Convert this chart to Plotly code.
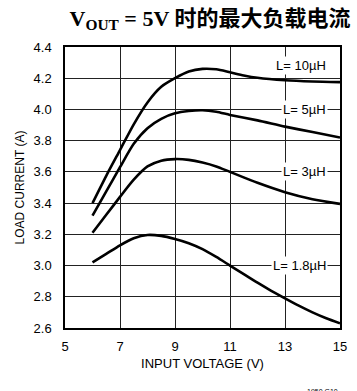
import plotly.graph_objects as go

# Input voltage (V) sample points and maximum load current (A) for each inductor value
vin_10uh = [6, 6.5, 7, 7.5, 8, 8.5, 9, 9.5, 10, 10.5, 11, 11.5, 12, 13, 14, 15]
iload_10uh = [3.40, 3.575, 3.74, 3.905, 4.045, 4.145, 4.20, 4.243, 4.26, 4.257, 4.238, 4.218, 4.203, 4.187, 4.179, 4.175]

vin_5uh = [6, 6.5, 7, 7.5, 8, 8.5, 9, 9.5, 10, 10.5, 11, 12, 13, 14, 15]
iload_5uh = [3.32, 3.475, 3.63, 3.78, 3.88, 3.94, 3.975, 3.99, 3.995, 3.985, 3.965, 3.93, 3.89, 3.855, 3.82]

vin_3uh = [6, 6.5, 7, 7.5, 8, 8.5, 9, 9.5, 10, 10.5, 11, 12, 13, 14, 15]
iload_3uh = [3.21, 3.325, 3.44, 3.55, 3.635, 3.672, 3.682, 3.677, 3.66, 3.635, 3.60, 3.53, 3.47, 3.425, 3.395]

vin_1p8uh = [6, 6.5, 7, 7.5, 8, 8.5, 9, 9.5, 10, 10.5, 11, 11.5, 12, 12.5, 13, 13.5, 14, 14.5, 15]
iload_1p8uh = [3.02, 3.075, 3.13, 3.175, 3.196, 3.19, 3.17, 3.143, 3.105, 3.055, 3.00, 2.945, 2.89, 2.838, 2.79, 2.743, 2.70, 2.662, 2.63]

curve_labels = ["L= 10µH", "L= 5µH", "L= 3µH", "L= 1.8µH"]
label_x = [14.55, 14.55, 14.55, 14.55]
label_y = [4.283, 4.0, 3.6, 3.0]

x_ticks = [5, 7, 9, 11, 13, 15]
y_ticks = [2.6, 2.8, 3.0, 3.2, 3.4, 3.6, 3.8, 4.0, 4.2, 4.4]

SANS = "Liberation Sans Narrow, Arial Narrow, Liberation Sans, Arial, sans-serif"

fig = go.Figure()
for xs, ys in [(vin_10uh, iload_10uh), (vin_5uh, iload_5uh),
               (vin_3uh, iload_3uh), (vin_1p8uh, iload_1p8uh)]:
    fig.add_trace(go.Scatter(
        x=xs, y=ys, mode="lines",
        line=dict(color="black", width=2.6, shape="spline", smoothing=0.7),
        showlegend=False, hoverinfo="skip",
    ))

for text, lx, ly in zip(curve_labels, label_x, label_y):
    fig.add_annotation(
        x=lx, y=ly, xref="x", yref="y", text=text, showarrow=False,
        xanchor="right", yanchor="middle",
        font=dict(family=SANS, size=13, color="black"),
        bgcolor="white", borderpad=1,
    )

fig.add_annotation(
    x=1.0, y=-0.205, xref="paper", yref="paper", text="1950 G10",
    showarrow=False, xanchor="right", yanchor="top",
    font=dict(family=SANS, size=7, color="black"),
)

fig.update_layout(
    width=357, height=391,
    margin=dict(l=65, r=10, t=47, b=63),
    paper_bgcolor="white", plot_bgcolor="white",
    title=dict(
        text="V<sub>OUT</sub> = 5V 时的最大负载电流",
        x=210 / 357, xref="container", xanchor="center",
        y=1 - 18 / 391, yanchor="middle",
        font=dict(family="Liberation Serif, Noto Sans CJK SC, serif",
                  size=22, color="black", weight="bold"),
    ),
    font=dict(family=SANS, size=12, color="black"),
)

fig.update_xaxes(
    range=[5, 15], tickvals=x_ticks, ticktext=[str(v) for v in x_ticks],
    showgrid=True, gridcolor="#222222", gridwidth=1,
    showline=True, linecolor="black", linewidth=1.5, mirror=True,
    ticks="", ticklabelstandoff=6, zeroline=False,
    title=dict(text="INPUT VOLTAGE (V)", standoff=6,
               font=dict(family=SANS, size=13)),
    tickfont=dict(family=SANS, size=13),
)
fig.update_yaxes(
    range=[2.6, 4.4], tickvals=y_ticks, ticktext=[f"{v:.1f}" for v in y_ticks],
    showgrid=True, gridcolor="#222222", gridwidth=1,
    showline=True, linecolor="black", linewidth=1.5, mirror=True,
    ticks="", ticklabelstandoff=9, zeroline=False,
    title=dict(text="LOAD CURRENT (A)", standoff=6,
               font=dict(family=SANS, size=12)),
    tickfont=dict(family=SANS, size=13),
)

fig.write_html("out.html")
